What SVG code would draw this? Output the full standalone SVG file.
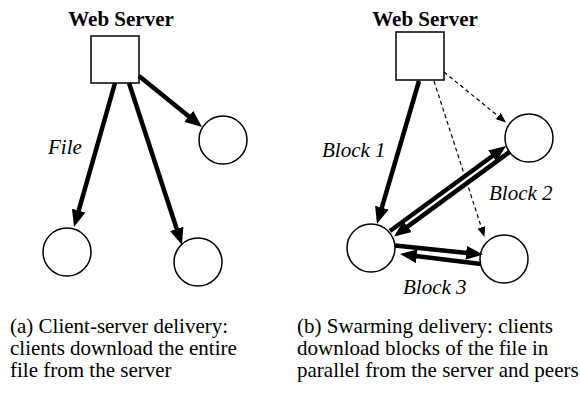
<svg xmlns="http://www.w3.org/2000/svg" width="580" height="395" viewBox="0 0 580 395">
  <style>
    text { font-family: 'Liberation Serif', 'Times New Roman', serif; font-size: 21px; fill: #000; }
    .title { font-weight: bold; text-anchor: middle; }
    .label { font-style: italic; }
    .box, .peer { fill: #fff; stroke: #000; stroke-width: 1.5; }
    .thick { stroke: #000; stroke-width: 4.5; fill: none; marker-end: url(#head); }
    .dashed { stroke: #000; stroke-width: 1.2; stroke-dasharray: 4 3; fill: none; marker-end: url(#headSmall); }
  </style>
  <defs>
    <marker id="head" markerUnits="userSpaceOnUse" markerWidth="18" markerHeight="14" viewBox="0 0 18 14" refX="1" refY="7" orient="auto">
      <path d="M0,0 L17,7 L0,14 z" fill="#000"/>
    </marker>
    <marker id="headSmall" markerUnits="userSpaceOnUse" markerWidth="11" markerHeight="8" viewBox="0 0 11 8" refX="1" refY="4" orient="auto">
      <path d="M0,0 L10,4 L0,8 z" fill="#000"/>
    </marker>
  </defs>
  <rect width="580" height="395" fill="#fff"/>

  <!-- (a) client-server delivery -->
  <g id="server-a">
    <text class="title" x="121" y="26">Web Server</text>
    <rect class="box" x="91" y="36" width="48" height="47"/>
  </g>
  <g id="client-a1"><circle class="peer" cx="67" cy="252" r="24"/></g>
  <g id="client-a2"><circle class="peer" cx="198" cy="262" r="24"/></g>
  <g id="client-a3"><circle class="peer" cx="223" cy="140" r="24"/></g>

  <!-- (b) swarming delivery -->
  <g id="server-b">
    <text class="title" x="425" y="26">Web Server</text>
    <rect class="box" x="396" y="32" width="48" height="48"/>
  </g>
  <g id="peer-b1"><circle class="peer" cx="371" cy="248" r="24"/></g>
  <g id="peer-b2"><circle class="peer" cx="529" cy="138" r="24"/></g>
  <g id="peer-b3"><circle class="peer" cx="504" cy="259" r="24"/></g>

  <g id="connectors">
    <!-- (a) whole file from the server -->
    <line class="thick" x1="115" y1="83" x2="78.4" y2="211.6"/>
    <line class="thick" x1="129" y1="83" x2="177" y2="229.8"/>
    <line class="thick" x1="139" y1="76" x2="189.6" y2="116.9"/>
    <text class="label" x="48" y="154">File</text>

    <!-- (b) blocks from the server and between peers -->
    <line class="thick" x1="419" y1="81" x2="381.5" y2="208.6"/>
    <line class="dashed" x1="444" y1="72" x2="499" y2="116.8"/>
    <line class="dashed" x1="434" y1="81" x2="481.7" y2="228.4"/>
    <line class="thick" x1="390" y1="231" x2="493.1" y2="155.5"/>
    <line class="thick" x1="510" y1="151.6" x2="406.9" y2="227.1"/>
    <line class="thick" x1="395" y1="245.5" x2="467.1" y2="252.9"/>
    <line class="thick" x1="481" y1="264" x2="415.9" y2="256"/>
    <text class="label" x="322" y="157">Block 1</text>
    <text class="label" x="489" y="200">Block 2</text>
    <text class="label" x="403" y="294">Block 3</text>
  </g>

  <g id="caption-a">
    <text x="10" y="333">(a) Client-server delivery:</text>
    <text x="10" y="355">clients download the entire</text>
    <text x="10" y="377">file from the server</text>
  </g>
  <g id="caption-b">
    <text x="297" y="333">(b) Swarming delivery: clients</text>
    <text x="297" y="355">download blocks of the file in</text>
    <text x="297" y="377">parallel from the server and peers</text>
  </g>
</svg>
